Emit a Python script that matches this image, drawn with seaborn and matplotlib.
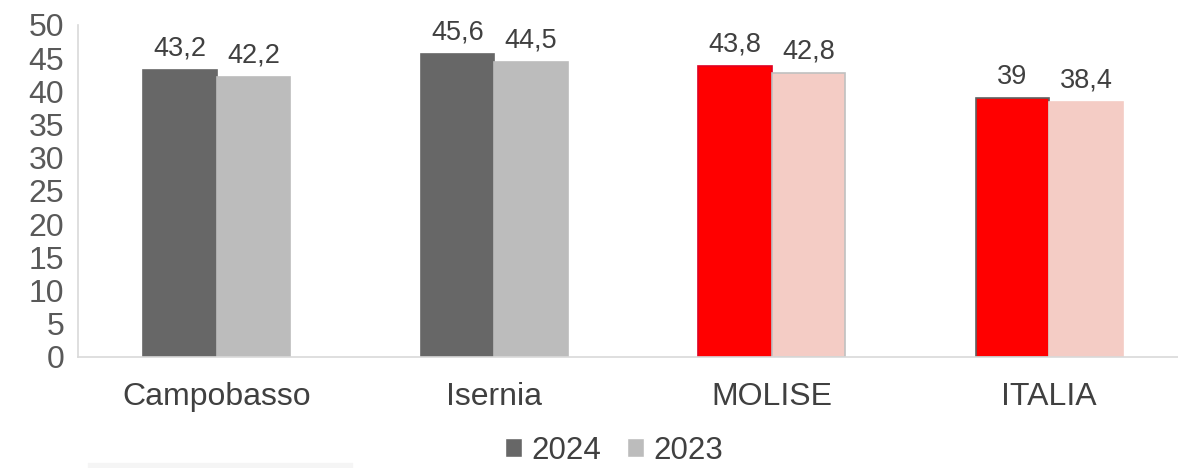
import pandas as pd
import matplotlib
matplotlib.use("Agg")
import matplotlib.pyplot as plt
import seaborn as sns
from matplotlib.patches import Rectangle

# dati
aree = ["Campobasso", "Isernia", "MOLISE", "ITALIA"]
anni = ["2024", "2023"]
valori_2024 = [43.2, 45.6, 43.8, 39.0]
valori_2023 = [42.2, 44.5, 42.8, 38.4]

df = pd.DataFrame({
    "area": aree * 2,
    "anno": [anni[0]] * len(aree) + [anni[1]] * len(aree),
    "valore": valori_2024 + valori_2023,
})

grigio_scuro = "#676767"
grigio_chiaro = "#bcbcbc"
rosso = "#ff0000"
rosa = "#f4ccc5"
colori = {
    "2024": [grigio_scuro, grigio_scuro, rosso, rosso],
    "2023": [grigio_chiaro, grigio_chiaro, rosa, rosa],
}
bordi = {
    "2024": [grigio_scuro, grigio_scuro, "#e00020", "#606060"],
    "2023": [grigio_chiaro, grigio_chiaro, "#c0c0c0", rosa],
}

sns.set_theme(style="white")
plt.rcParams["font.family"] = ["Liberation Sans", "DejaVu Sans"]

fig = plt.figure(figsize=(11.78, 4.68), dpi=100)
ax = fig.add_axes([78 / 1178, 111 / 468, 1110 / 1178, 332 / 468])

sns.barplot(data=df, x="area", y="valore", hue="anno", hue_order=anni,
            palette={"2024": grigio_scuro, "2023": grigio_chiaro},
            width=0.53, ax=ax, legend=True)

for cont, anno in zip(ax.containers, anni):
    for patch, fc, ec in zip(cont.patches, colori[anno], bordi[anno]):
        patch.set_facecolor(fc)
        patch.set_edgecolor(ec)
        patch.set_linewidth(1.2)
    etichette = [f"{v:g}".replace(".", ",") for v in cont.datavalues]
    ax.bar_label(cont, labels=etichette, padding=6, fontsize=19.5, color="#404040")

ax.set_ylim(0, 50)
ax.set_yticks(range(0, 51, 5))
ax.set_xlabel("")
ax.set_ylabel("")
ax.tick_params(axis="y", direction="in", length=7, width=1, color="#d9d9d9",
               labelsize=23, labelcolor="#595959", pad=10)
ax.tick_params(axis="x", length=0, labelsize=23, labelcolor="#404040", pad=18)

for lato in ["top", "right"]:
    ax.spines[lato].set_visible(False)
for lato in ["left", "bottom"]:
    ax.spines[lato].set_color("#d9d9d9")
    ax.spines[lato].set_linewidth(1.2)

ax.legend(loc="center", bbox_to_anchor=(536 / 1110, -0.283), ncol=2, frameon=False,
          fontsize=22.5, handlelength=0.55, handleheight=0.55, handletextpad=0.3,
          columnspacing=0.8, labelcolor="#404040")

# striscia grigia chiara in basso a sinistra
fig.patches.append(Rectangle((88 / 1178, 0), 264 / 1178, 5 / 468,
                             transform=fig.transFigure, color="#f5f5f5", zorder=0))

fig.savefig("out.png", dpi=100, facecolor="white")
